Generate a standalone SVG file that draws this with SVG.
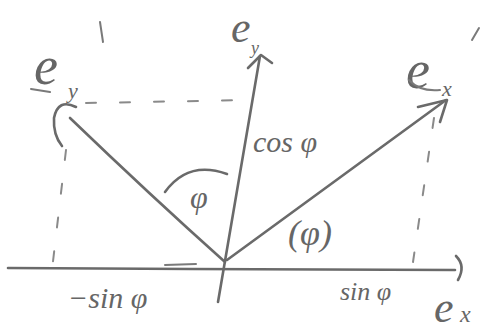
<svg xmlns="http://www.w3.org/2000/svg" width="486" height="333" viewBox="0 0 486 333">
<style>
.ln{fill:none;stroke:#6a6a6a;stroke-width:2.6;stroke-linecap:round;stroke-linejoin:round}
.th{fill:none;stroke:#7a7a7a;stroke-width:2;stroke-linecap:round}
.ds{fill:none;stroke:#8a8a8a;stroke-width:2;stroke-linecap:round;stroke-dasharray:10 24}
.t{font-family:"Liberation Serif",serif;font-style:italic;fill:#666}
</style>
<rect width="486" height="333" fill="#fff"/>
<g id="guides">
<path class="ds" d="M86 103 L250 100"/>
<path class="ds" d="M66 150 L52 270"/>
<path class="ds" d="M434 118 L413 262"/>
</g>
<g id="connectors">
<path id="x-axis" class="ln" d="M8 268 L190 269 L455 270"/>
<path class="th" d="M165 265 L196 264"/>
<path class="ln" d="M456 256 Q466 266 458 280"/>
<path id="y-axis" class="ln" d="M218 302 L260 56"/>
<path class="ln" d="M248 68 L261 55 L272 63"/>
<path id="ey-prime-vec" class="ln" d="M225 262 Q150 195 70 118"/>
<path class="ln" d="M76 107 Q58 98 54 118 Q53 135 62 146"/>
<path id="ex-prime-vec" class="ln" d="M227 260 L446 100"/>
<path class="ln" d="M418 107 L447 100 L440 122"/>
<path class="ln" d="M165 192 Q188 160 227 174"/>
</g>
<g id="label-ey-prime"><text class="t" x="34" y="84" font-size="54">e</text><text class="t" x="68" y="98" font-size="22">y</text><path class="th" d="M100 22 L103 42"/><path class="th" d="M31 89 L50 92"/></g>
<g id="label-ey"><text class="t" x="231" y="42" font-size="44">e</text><text class="t" x="251" y="54" font-size="18">y</text></g>
<g id="label-ex-prime"><text class="t" x="406" y="88" font-size="54">e</text><text class="t" x="442" y="96" font-size="22">x</text><path class="th" d="M479 28 L472 40"/><path class="th" d="M409 80 Q420 92 440 90"/></g>
<g id="label-ex"><text class="t" x="434" y="322" font-size="44">e</text><text class="t" x="460" y="322" font-size="24">x</text></g>
<text class="t" x="253" y="152" font-size="30">cos φ</text>
<text class="t" x="68" y="308" font-size="30">−sin φ</text>
<text class="t" x="340" y="300" font-size="26">sin φ</text>
<text class="t" x="190" y="208" font-size="32">φ</text>
<text class="t" x="288" y="245" font-size="36">(φ)</text>
</svg>
